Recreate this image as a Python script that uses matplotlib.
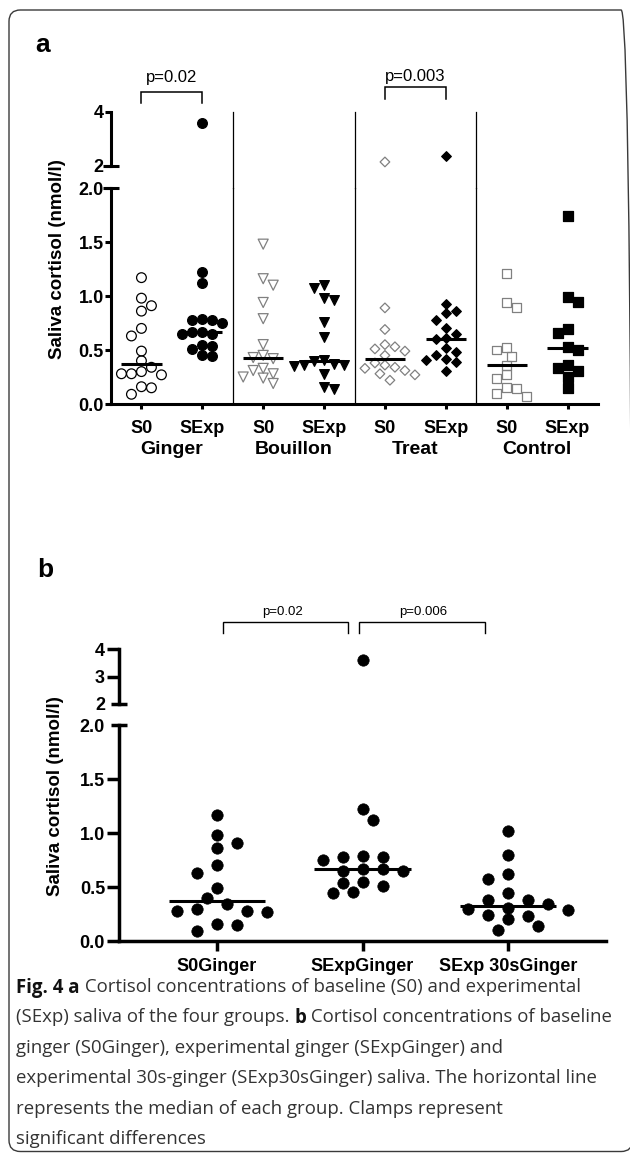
import numpy as np
import matplotlib.pyplot as plt
import matplotlib.transforms as mtransforms
from matplotlib.patches import FancyBboxPatch

plt.rcParams['font.family'] = ['Liberation Sans', 'DejaVu Sans']
plt.rcParams['font.weight'] = 'bold'

W, H = 630, 1153

# ---- data (nmol/l) ----
groups_a = ['Ginger', 'Bouillon', 'Treat', 'Control']
ticks_a = ['S0', 'SExp'] * 4
ginger_s0 = [1.17, 0.98, 0.91, 0.86, 0.70, 0.63, 0.49, 0.40, 0.34, 0.30, 0.28, 0.28, 0.27, 0.16, 0.15, 0.09]
ginger_sexp = [3.6, 1.22, 1.12, 0.79, 0.78, 0.78, 0.75, 0.67, 0.67, 0.65, 0.65, 0.55, 0.54, 0.51, 0.45, 0.44]
bouillon_s0 = [1.48, 1.16, 1.10, 0.94, 0.79, 0.55, 0.45, 0.43, 0.42, 0.33, 0.31, 0.28, 0.25, 0.24, 0.19]
bouillon_sexp = [1.10, 1.07, 0.98, 0.96, 0.76, 0.62, 0.41, 0.40, 0.37, 0.36, 0.36, 0.35, 0.28, 0.16, 0.14]
treat_s0 = [2.15, 0.89, 0.69, 0.55, 0.53, 0.51, 0.49, 0.45, 0.38, 0.36, 0.34, 0.33, 0.31, 0.28, 0.27, 0.22]
treat_sexp = [2.38, 0.93, 0.86, 0.84, 0.78, 0.70, 0.65, 0.61, 0.60, 0.52, 0.48, 0.45, 0.42, 0.41, 0.39, 0.31]
control_s0 = [1.21, 0.94, 0.89, 0.52, 0.50, 0.44, 0.36, 0.27, 0.24, 0.15, 0.14, 0.10, 0.07]
control_sexp = [1.74, 0.99, 0.94, 0.69, 0.66, 0.53, 0.50, 0.36, 0.33, 0.31, 0.25, 0.15]

ticks_b = ['S0Ginger', 'SExpGinger', 'SExp 30sGinger']
sexp30s_ginger = [1.02, 0.80, 0.62, 0.57, 0.44, 0.38, 0.38, 0.34, 0.31, 0.30, 0.29, 0.24, 0.23, 0.20, 0.14, 0.10]

pvals_a = ['p=0.02', 'p=0.003']
pvals_b = ['p=0.02', 'p=0.006']

series_a = [ginger_s0, ginger_sexp, bouillon_s0, bouillon_sexp,
            treat_s0, treat_sexp, control_s0, control_sexp]
series_b = [ginger_s0, ginger_sexp, sexp30s_ginger]

# styles
markers_a = ['o', 'o', 'v', 'v', 'D', 'D', 's', 's']
faces_a = ['none', 'black', 'none', 'black', 'none', 'black', 'none', 'black']
edges_a = ['black', 'black', 'gray', 'black', 'gray', 'black', 'gray', 'black']
sizes_a = [7.0, 7.0, 7.2, 7.0, 4.9, 4.9, 6.4, 6.8]

fig = plt.figure(figsize=(W / 100, H / 100), dpi=100)


def rect(left, right, top, bottom):
    return [left / W, 1 - bottom / H, (right - left) / W, (bottom - top) / H]


def swarm(vals, xpx, ypx, gap, sx, sy):
    # beeswarm on a half-column grid, elliptical spacing sx (across) / sy (up)
    v = np.asarray(vals, float)
    ys = np.where(v <= 2, v * ypx, 2 * ypx + gap + (v - 2) * ypx / 4)
    placed = []
    offs = np.zeros(len(v))
    for n, i in enumerate(np.argsort(-v)):
        side = sum(np.sign(px) for px, _ in placed)
        for k in range(0, 20):
            h = k * sx / 2
            if k == 0:
                cands = [0.0]
            elif side > 0 or (side == 0 and n % 2):
                cands = [-h, h]
            else:
                cands = [h, -h]
            ok = [c for c in cands
                  if all(((c - px) / sx) ** 2 + ((ys[i] - py) / sy) ** 2 >= 0.98 for px, py in placed)]
            if ok:
                break
        offs[i] = ok[0]
        placed.append((ok[0], ys[i]))
    return offs / xpx


def cap(ax, y, half_px, lw):
    half = half_px / (ax.get_position().width * W)
    ax.plot([-half, half], [y, y], transform=ax.get_yaxis_transform(), color='black',
            lw=lw, clip_on=False, solid_capstyle='butt')


def make_panel(box, top_hi, xlim, hi_ticks, lw, ylen, xlen):
    left, right, top_lo, bottom = box
    lo = fig.add_axes(rect(left, right, top_lo, bottom))
    hi = fig.add_axes(rect(left, right, top_hi[0], top_hi[1]))
    for ax in (lo, hi):
        ax.set_xlim(xlim)
        ax.patch.set_alpha(0)
        for s in ('top', 'right'):
            ax.spines[s].set_visible(False)
        ax.spines['left'].set_linewidth(lw)
        ax.tick_params(axis='y', length=ylen, width=lw, pad=1, labelsize=13)
    hi.spines['bottom'].set_visible(False)
    hi.tick_params(axis='x', bottom=False, labelbottom=False)
    lo.spines['bottom'].set_linewidth(lw)
    lo.set_ylim(0, 2)
    hi.set_ylim(2, 4)
    lo.set_yticks([0, 0.5, 1.0, 1.5, 2.0])
    lo.set_yticklabels(['0.0', '0.5', '1.0', '1.5', '2.0'])
    hi.set_yticks(hi_ticks)
    hi.set_yticklabels([str(t) for t in hi_ticks])
    lo.tick_params(axis='x', length=xlen, width=lw)
    cap(lo, 2, 8, lw)
    cap(hi, 2, 8, lw)
    return lo, hi


def bracket(ax, x0, x1, yb, yt, lw):
    tr = mtransforms.blended_transform_factory(ax.transData, ax.transAxes)
    ax.plot([x0, x0, x1, x1], [yb, yt, yt, yb], transform=tr, color='black',
            lw=lw, clip_on=False, solid_joinstyle='miter')


# ================= panel a =================
lo_a, hi_a = make_panel((111, 598, 188, 404), (112, 166), (-0.5, 7.5), [2, 4], 2.2, 4.3, 3.6)
xpos_a = np.arange(len(series_a))
lo_a.set_xticks(xpos_a)
lo_a.set_xticklabels(ticks_a, fontsize=13)
lo_a.tick_params(axis='x', pad=8)

xpx_a = 487 / 8
for i, vals in enumerate(series_a):
    v = np.asarray(vals)
    x = xpos_a[i] + swarm(v, xpx_a, 108, 22, 10, 9.5)
    for ax, m in ((lo_a, v <= 2), (hi_a, v > 2)):
        if m.any():
            ax.scatter(x[m], v[m], s=sizes_a[i] ** 2, marker=markers_a[i], facecolors=faces_a[i],
                       edgecolors=edges_a[i], linewidths=0.9, clip_on=False, zorder=3)
    lo_a.plot([xpos_a[i] - 0.33, xpos_a[i] + 0.33], [np.median(v)] * 2, color='black',
              lw=2.2, solid_capstyle='butt', zorder=4)

for xs in (xpos_a[1:-1:2] + 0.5):
    lo_a.axvline(xs, color='black', lw=0.9)
    hi_a.axvline(xs, ymin=-22 / 54, ymax=1, color='black', lw=0.9, clip_on=False)

tr_grp = mtransforms.blended_transform_factory(lo_a.transData, fig.transFigure)
for i, g in enumerate(groups_a):
    lo_a.text(xpos_a[2 * i] + 0.5, 1 - 441 / H, g, transform=tr_grp, ha='center', va='top',
              fontsize=14)

tr_a = mtransforms.blended_transform_factory(hi_a.transData, hi_a.transAxes)
bracket(hi_a, 0, 1, 1.167, 1.37, 1.1)
hi_a.text(0.5, 1.63, pvals_a[0], transform=tr_a, ha='center', va='center', fontsize=12,
          fontweight='normal')
bracket(hi_a, 4, 5, 1.24, 1.46, 1.1)
hi_a.text(4.5, 1.65, pvals_a[1], transform=tr_a, ha='center', va='center', fontsize=12,
          fontweight='normal')

fig.text(57 / W, 1 - 259 / H, 'Saliva cortisol (nmol/l)', rotation=90, ha='center', va='center',
         fontsize=13.5)
fig.text(43 / W, 1 - 45 / H, 'a', ha='center', va='center', fontsize=19)

# ================= panel b =================
lo_b, hi_b = make_panel((119, 606, 725, 941), (649, 704), (-0.674, 2.674), [2, 3, 4], 2.5, 9, 7)
xpos_b = np.arange(len(series_b))
lo_b.set_xticks(xpos_b)
lo_b.set_xticklabels(ticks_b, fontsize=13)
lo_b.tick_params(axis='x', pad=5)
# break ends: no outward tick, only the cap
lo_b.yaxis.get_major_ticks()[-1].tick1line.set_markersize(0)
hi_b.yaxis.get_major_ticks()[0].tick1line.set_markersize(0)

xpx_b = 487 / 3.348
for i, vals in enumerate(series_b):
    v = np.asarray(vals)
    x = xpos_b[i] + swarm(v, xpx_b, 108, 21, 20, 11)
    for ax, m in ((lo_b, v <= 2), (hi_b, v > 2)):
        if m.any():
            ax.scatter(x[m], v[m], s=8.2 ** 2, marker='o', facecolors='black',
                       edgecolors='black', linewidths=0.5, clip_on=False, zorder=3)
    lo_b.plot([xpos_b[i] - 0.33, xpos_b[i] + 0.33], [np.median(v)] * 2, color='black',
              lw=2.2, solid_capstyle='butt', zorder=4)

tr_b = mtransforms.blended_transform_factory(hi_b.transData, hi_b.transAxes)
bracket(hi_b, 0.04, 0.90, 1.29, 1.49, 1.0)
hi_b.text(0.45, 1.67, pvals_b[0], transform=tr_b, ha='center', va='center', fontsize=9.5,
          fontweight='normal')
bracket(hi_b, 0.976, 1.84, 1.29, 1.49, 1.0)
hi_b.text(1.42, 1.67, pvals_b[1], transform=tr_b, ha='center', va='center', fontsize=9.5,
          fontweight='normal')

fig.text(56 / W, 1 - 796 / H, 'Saliva cortisol (nmol/l)', rotation=90, ha='center', va='center',
         fontsize=13.5)
fig.text(45 / W, 1 - 570 / H, 'b', ha='center', va='center', fontsize=19)

# ================= caption =================
caption = [
    [('Fig. 4 a', True), (' Cortisol concentrations of baseline (S0) and experimental', False)],
    [('(SExp) saliva of the four groups. ', False), ('b', True), (' Cortisol concentrations of baseline', False)],
    [('ginger (S0Ginger), experimental ginger (SExpGinger) and', False)],
    [('experimental 30s-ginger (SExp30sGinger) saliva. The horizontal line', False)],
    [('represents the median of each group. Clamps represent', False)],
    [('significant differences', False)],
]
renderer = fig.canvas.get_renderer()
for k, parts in enumerate(caption):
    x = 16
    y = H - (985 + k * 30.4)
    for txt, bold in parts:
        t = fig.text(x / W, y / H, txt, ha='left', va='center_baseline',
                     fontsize=13.4, family=['Open Sans', 'DejaVu Sans'],
                     fontweight='bold' if bold else 'normal',
                     color='#111111' if bold else '#333333')
        x += t.get_window_extent(renderer).width

frame = FancyBboxPatch((9 / W, 1 - 1151.5 / H), 623.5 / W, 1141.5 / H,
                       boxstyle='round,pad=0,rounding_size=0.018',
                       transform=fig.transFigure, fill=False, ec='#3a3a3a', lw=1.0,
                       mutation_aspect=W / H)
fig.add_artist(frame)

fig.savefig('out.png', dpi=100)
